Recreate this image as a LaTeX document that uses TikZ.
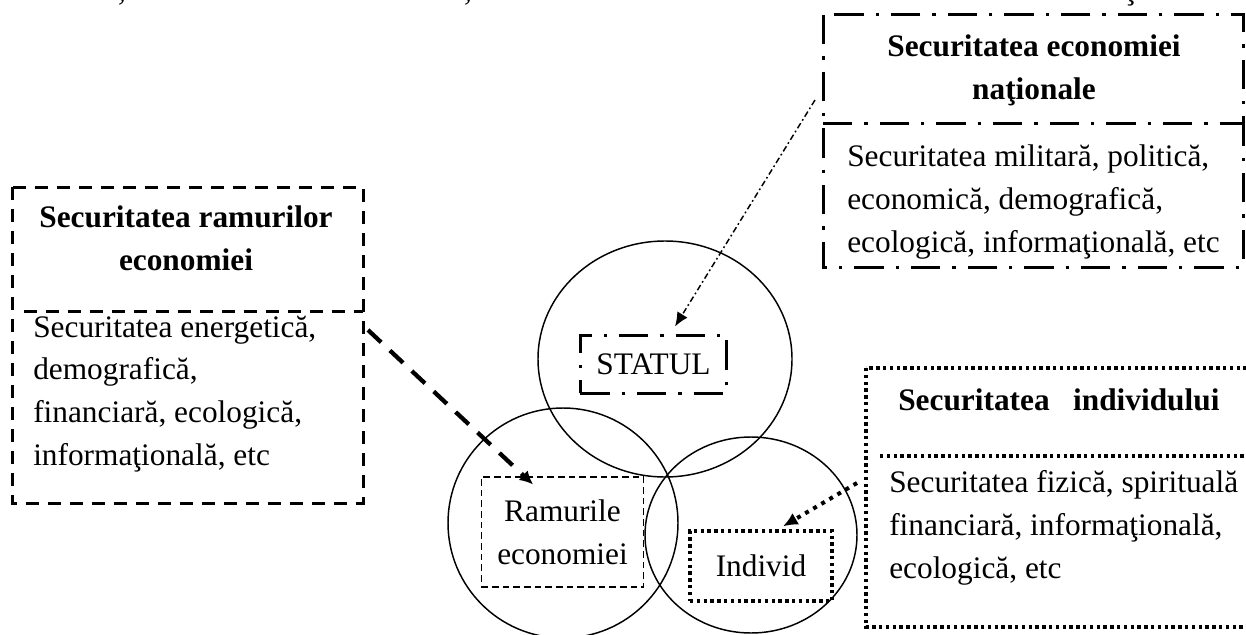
\documentclass[tikz,border=0pt]{standalone}
\usepackage{fontspec}
\setmainfont{Liberation Serif}
\usetikzlibrary{arrows.meta}
\begin{document}
\begin{tikzpicture}[x=0.75pt,y=-0.75pt,
  txt/.style={font={\fontsize{23.5pt}{32pt}\selectfont}, inner sep=0pt},
  ttl/.style={font={\fontsize{23.5pt}{32pt}\selectfont\bfseries}, inner sep=0pt},
  circ/.style={draw, line width=1.1pt},
  dashdotline/.style={line width=2.25pt, dash pattern=on 22pt off 9pt on 2.5pt off 9pt},
  dashline/.style={line width=2.25pt, dash pattern=on 10pt off 6.5pt},
  thindash/.style={line width=0.9pt, dash pattern=on 5pt off 3pt},
  dotline/.style={line width=2.5pt, dash pattern=on 2.5pt off 2.6pt},
  arrA/.style={line width=1.1pt, dash pattern=on 4.5pt off 2.2pt on 1.3pt off 2.2pt, -{Latex[length=10.5pt,width=9pt]}},
  arrB/.style={line width=3.2pt, dash pattern=on 13.5pt off 9pt, -{Latex[length=10pt,width=10pt]}},
  arrC/.style={line width=3pt, dash pattern=on 3pt off 4pt, -{Latex[length=11pt,width=10pt]}},
  smallbox/.style={txt, draw, align=center}
]
\fill[white] (0,0) rectangle (1246,635);
\useasboundingbox (0,0) rectangle (1246,635);
\clip (0,0) rectangle (1246,635);

% fragments of the text line above (cut off)
\node[txt, anchor=base] (frag1) at (122,1) {,};
\node[txt, anchor=base] (frag2) at (468,1) {,};
\node[txt, anchor=base] (frag3) at (1130,0) {ţ};

% circles
\draw[circ] (665,359) ellipse [x radius=95.25pt, y radius=88.5pt];
\draw[circ] (563,523) ellipse [x radius=86.25pt, y radius=86.25pt];
\draw[circ] (751,535) ellipse [x radius=79.5pt, y radius=73.5pt];

% top-right box: Securitatea economiei nationale
\coordinate (tr1) at (823,15);
\coordinate (tr2) at (1243,267);
\draw[dashdotline] (tr1) rectangle (tr2);
\draw[dashdotline] (823,123) -- (1243,123);
\node[ttl, align=center, anchor=base] (trtitle) at (1034,99) {Securitatea economiei\\naţionale};
\node[txt, align=left, anchor=base west] (trbody) at (847,252)
  {Securitatea militară, politică,\\economică, demografică,\\ecologică, informaţională, etc};

% left box: Securitatea ramurilor economiei
\coordinate (lb1) at (12,187);
\coordinate (lb2) at (363,503);
\draw[dashline] (lb1) rectangle (lb2);
\draw[dashline] (24,311) -- (363,311);
\node[ttl, align=center, anchor=base] (lbtitle) at (186,270) {Securitatea ramurilor\\economiei};
\node[txt, align=left, anchor=base west] (lbbody) at (33,465)
  {Securitatea energetică,\\demografică,\\financiară, ecologică,\\informaţională, etc};

% right box: Securitatea individului
\coordinate (rb1) at (866,368);
\coordinate (rb2) at (1270,627);
\draw[dotline] (rb1) rectangle (rb2);
\draw[dotline] (880,456) -- (1270,456);
\node[ttl, anchor=base west] (rbtitle) at (898,410) {Securitatea\hspace{0.5em} individului};
\node[txt, align=left, anchor=base west] (rbbody) at (889,578)
  {Securitatea fizică, spirituală\\financiară, informaţională,\\ecologică, etc};

% inner boxes
\node[smallbox, dashdotline, minimum width=110pt, minimum height=43.5pt] (statul) at (653.5,364) {STATUL};
\node[smallbox, thindash, minimum width=122pt, minimum height=82.5pt] (ramuri) at (562.5,532) {Ramurile\\economiei};
\node[smallbox, dotline, minimum width=106.5pt, minimum height=52.5pt] (individ) at (761,566) {Individ};

% connectors
\coordinate (sA) at (815,100);
\coordinate (sB) at (368,330);
\coordinate (sC) at (857,483);
\draw[arrA] (sA) -- ([shift={(21.5,-7)}]statul.north);
\draw[arrB] (sB) -- ([shift={(-29.5,8)}]ramuri.north);
\draw[arrC] (sC) -- ([shift={(22,-3)}]individ.north);
\end{tikzpicture}
\end{document}
